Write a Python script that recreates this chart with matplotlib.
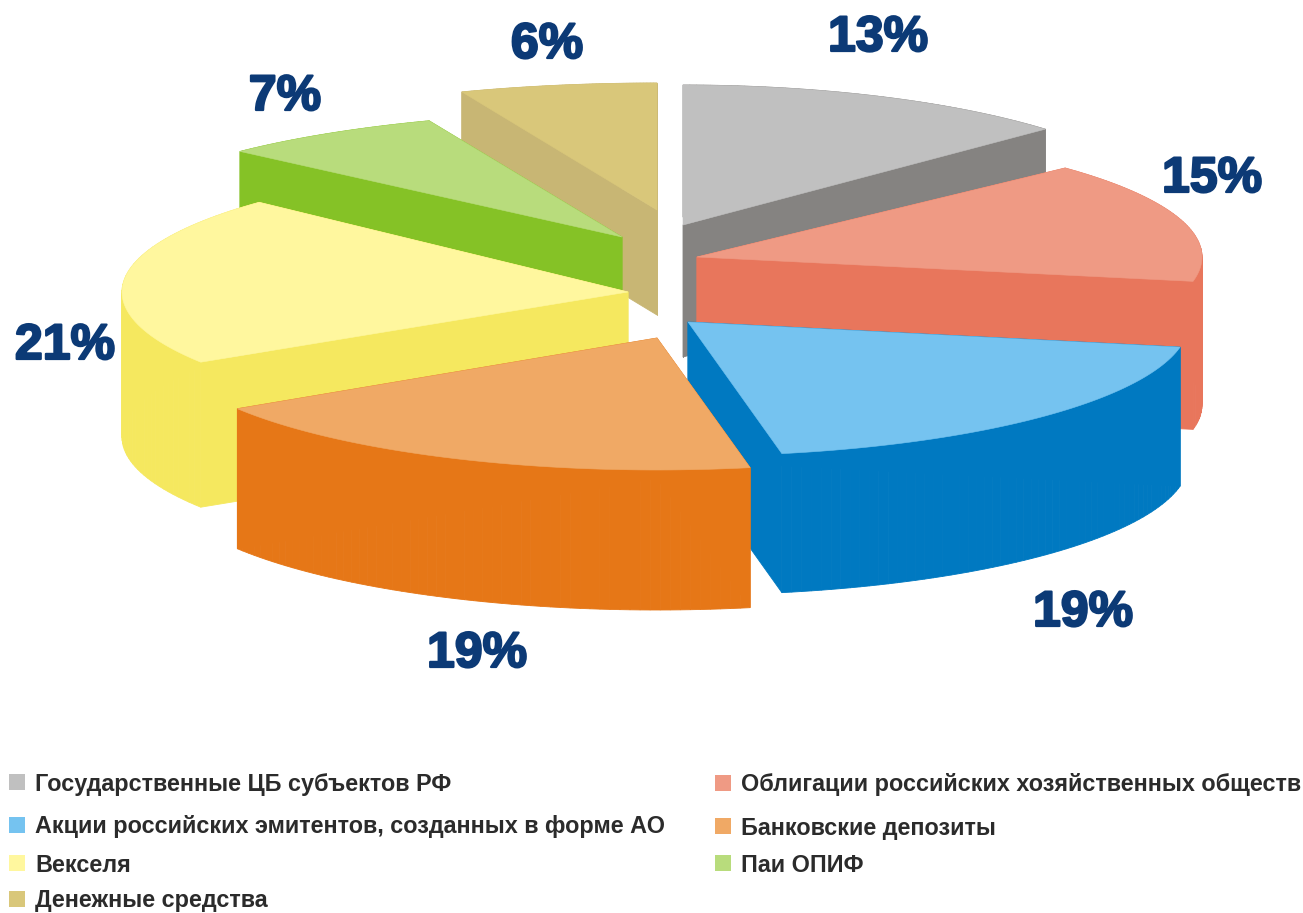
import numpy as np
import matplotlib
matplotlib.use("Agg")
import matplotlib.pyplot as plt
import matplotlib.patheffects as pe
from matplotlib.patches import Polygon, Rectangle

categories = ["Государственные ЦБ субъектов РФ",
              "Облигации российских хозяйственных обществ",
              "Акции российских эмитентов, созданных в форме АО",
              "Банковские депозиты", "Векселя", "Паи ОПИФ", "Денежные средства"]
shares = [13, 15, 19, 19, 21, 7, 6]

# styles
top_colors = ["#c0c0c0", "#ef9a84", "#75c3f0", "#f0a965", "#fff79e", "#b8dc7c", "#d9c77a"]
side_colors = ["#858381", "#e8765c", "#0079c1", "#e67717", "#f5e85f", "#85c226", "#c8b674"]
apex_x = [683, 697, 688, 657, 628, 622, 657]
apex_y = [225, 257, 322, 338, 292, 237, 210]
radius_x = [497, 505, 501, 497, 506, 524, 530]
radius_y = [140, 130, 134, 132, 131, 125, 127]
depths = [132, 148, 139, 140, 145, 138, 105]
draw_order = [6, 0, 5, 1, 4, 2, 3]
label_xy = [(878, 38), (1212, 179), (1083, 613), (477, 654), (65, 346), (285, 97), (547, 45)]
legend_xy = [(17, 784), (723, 785), (17, 827), (723, 828), (17, 865), (723, 865), (17, 901)]

fig = plt.figure(figsize=(13.03, 9.13), dpi=100)
ax = fig.add_axes([0, 0, 1, 1])
ax.set_xlim(0, 1303)
ax.set_ylim(913, 0)
ax.axis("off")

edges = 90 - 360 * np.concatenate([[0], np.cumsum(shares)]) / sum(shares)
for i in draw_order:
    apex = np.array([apex_x[i], apex_y[i]], dtype=float)
    th = np.radians(np.linspace(edges[i], edges[i + 1], 60))
    arc = np.column_stack([apex[0] + radius_x[i] * np.cos(th),
                           apex[1] - radius_y[i] * np.sin(th)])
    outline = np.vstack([apex, arc])
    shift = np.array([0, depths[i]])
    # extruded walls: every edge of the wedge swept downward
    for p, q in zip(outline, np.roll(outline, -1, axis=0)):
        ax.add_patch(Polygon([p, q, q + shift, p + shift], closed=True,
                             fc=side_colors[i], ec=side_colors[i], lw=0.6))
    ax.add_patch(Polygon(outline, closed=True, fc=top_colors[i], ec=top_colors[i], lw=0.4))

    ax.text(*label_xy[i], f"{shares[i]}%", family="Liberation Sans", weight="bold",
            fontsize=36, color="#0c3a76", ha="center", va="center",
            path_effects=[pe.withStroke(linewidth=1.6, foreground="#0c3a76")])

for i, name in enumerate(categories):
    x, y = legend_xy[i]
    ax.add_patch(Rectangle((x - 8, y - 10), 16, 16, fc=top_colors[i], ec="none"))
    ax.text(x + 18, y, name, family="Liberation Sans", weight="bold", fontsize=16.85,
            color="#2b2b2b", ha="left", va="center")

fig.savefig("out.png", dpi=100, facecolor="white")
